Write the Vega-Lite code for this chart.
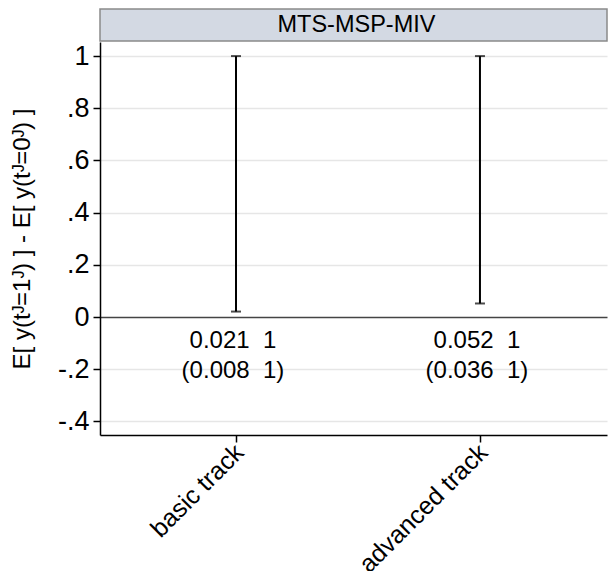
{
  "$schema": "https://vega.github.io/schema/vega-lite/v6.json",
  "padding": {"left": 10, "top": 8, "right": 0, "bottom": 0},
  "background": "white",
  "config": {"font": "Liberation Sans", "view": {"stroke": null}, "concat": {"spacing": 0}},
  "vconcat": [
    {
      "width": 507,
      "height": 32,
      "view": {"fill": "#d3d9e3", "stroke": "#8a8a8a", "strokeWidth": 1.5},
      "data": {"values": [{"label": "MTS-MSP-MIV"}]},
      "mark": {"type": "text", "fontSize": 23.5, "color": "black", "baseline": "middle", "align": "center", "dx": 3},
      "encoding": {"text": {"field": "label", "type": "nominal"}}
    },
    {
      "width": 507,
      "height": 393,
      "data": {"values": [
        {"track": "basic track", "lo": 0.021, "hi": 1, "est": "0.021\u00a0\u00a01", "ci": "(0.008\u00a0\u00a01)"},
        {"track": "advanced track", "lo": 0.052, "hi": 1, "est": "0.052\u00a0\u00a01", "ci": "(0.036\u00a0\u00a01)"}
      ]},
      "encoding": {
        "x": {
          "field": "track", "type": "nominal", "sort": ["basic track", "advanced track"],
          "scale": {"type": "point", "padding": 0.539, "align": 0.517},
          "axis": {"title": null, "labelAngle": -45, "labelFontSize": 25, "labelColor": "black", "tickSize": 7, "tickColor": "black", "tickWidth": 1.5, "domainColor": "black", "domainWidth": 1.5, "labelPadding": 6, "labelOffset": 3, "grid": false, "labelAlign": "right", "labelBaseline": "middle"}
        }
      },
      "layer": [
        {
          "mark": {"type": "rule", "color": "black", "strokeWidth": 2},
          "encoding": {
            "y": {
              "field": "lo", "type": "quantitative",
              "scale": {"domain": [-0.452, 1.054], "nice": false, "zero": false},
              "axis": {
                "title": "E[ y(tᴶ=1ᴶ) ] - E[ y(tᴶ=0ᴶ) ]",
                "values": [-0.4, -0.2, 0, 0.2, 0.4, 0.6, 0.8, 1],
                "labelExpr": "datum.value == 0 ? '0' : datum.value == 1 ? '1' : (datum.value < 0 ? '-' : '') + '.' + abs(round(datum.value * 10))",
                "labelFontSize": 27, "labelColor": "black", "labelPadding": 4,
                "tickSize": 7, "tickColor": "black", "tickWidth": 1.5,
                "domainColor": "black", "domainWidth": 1.5,
                "grid": true,
                "gridColor": {"condition": {"test": "datum.value === 0", "value": "#444444"}, "value": "#e6e6e6"},
                "gridWidth": 1.5,
                "titleFontSize": 24, "titleFontWeight": "normal", "titleColor": "black", "titlePadding": 23
              }
            },
            "y2": {"field": "hi"}
          }
        },
        {
          "mark": {"type": "tick", "orient": "horizontal", "size": 10, "thickness": 2, "color": "black"},
          "encoding": {"y": {"field": "lo", "type": "quantitative"}}
        },
        {
          "mark": {"type": "tick", "orient": "horizontal", "size": 10, "thickness": 2, "color": "black"},
          "encoding": {"y": {"field": "hi", "type": "quantitative"}}
        },
        {
          "mark": {"type": "text", "fontSize": 24, "color": "black", "baseline": "middle", "align": "center", "dx": -3},
          "encoding": {"y": {"datum": -0.09, "type": "quantitative"}, "text": {"field": "est", "type": "nominal"}}
        },
        {
          "mark": {"type": "text", "fontSize": 24, "color": "black", "baseline": "middle", "align": "center", "dx": -3},
          "encoding": {"y": {"datum": -0.207, "type": "quantitative"}, "text": {"field": "ci", "type": "nominal"}}
        }
      ]
    }
  ]
}
